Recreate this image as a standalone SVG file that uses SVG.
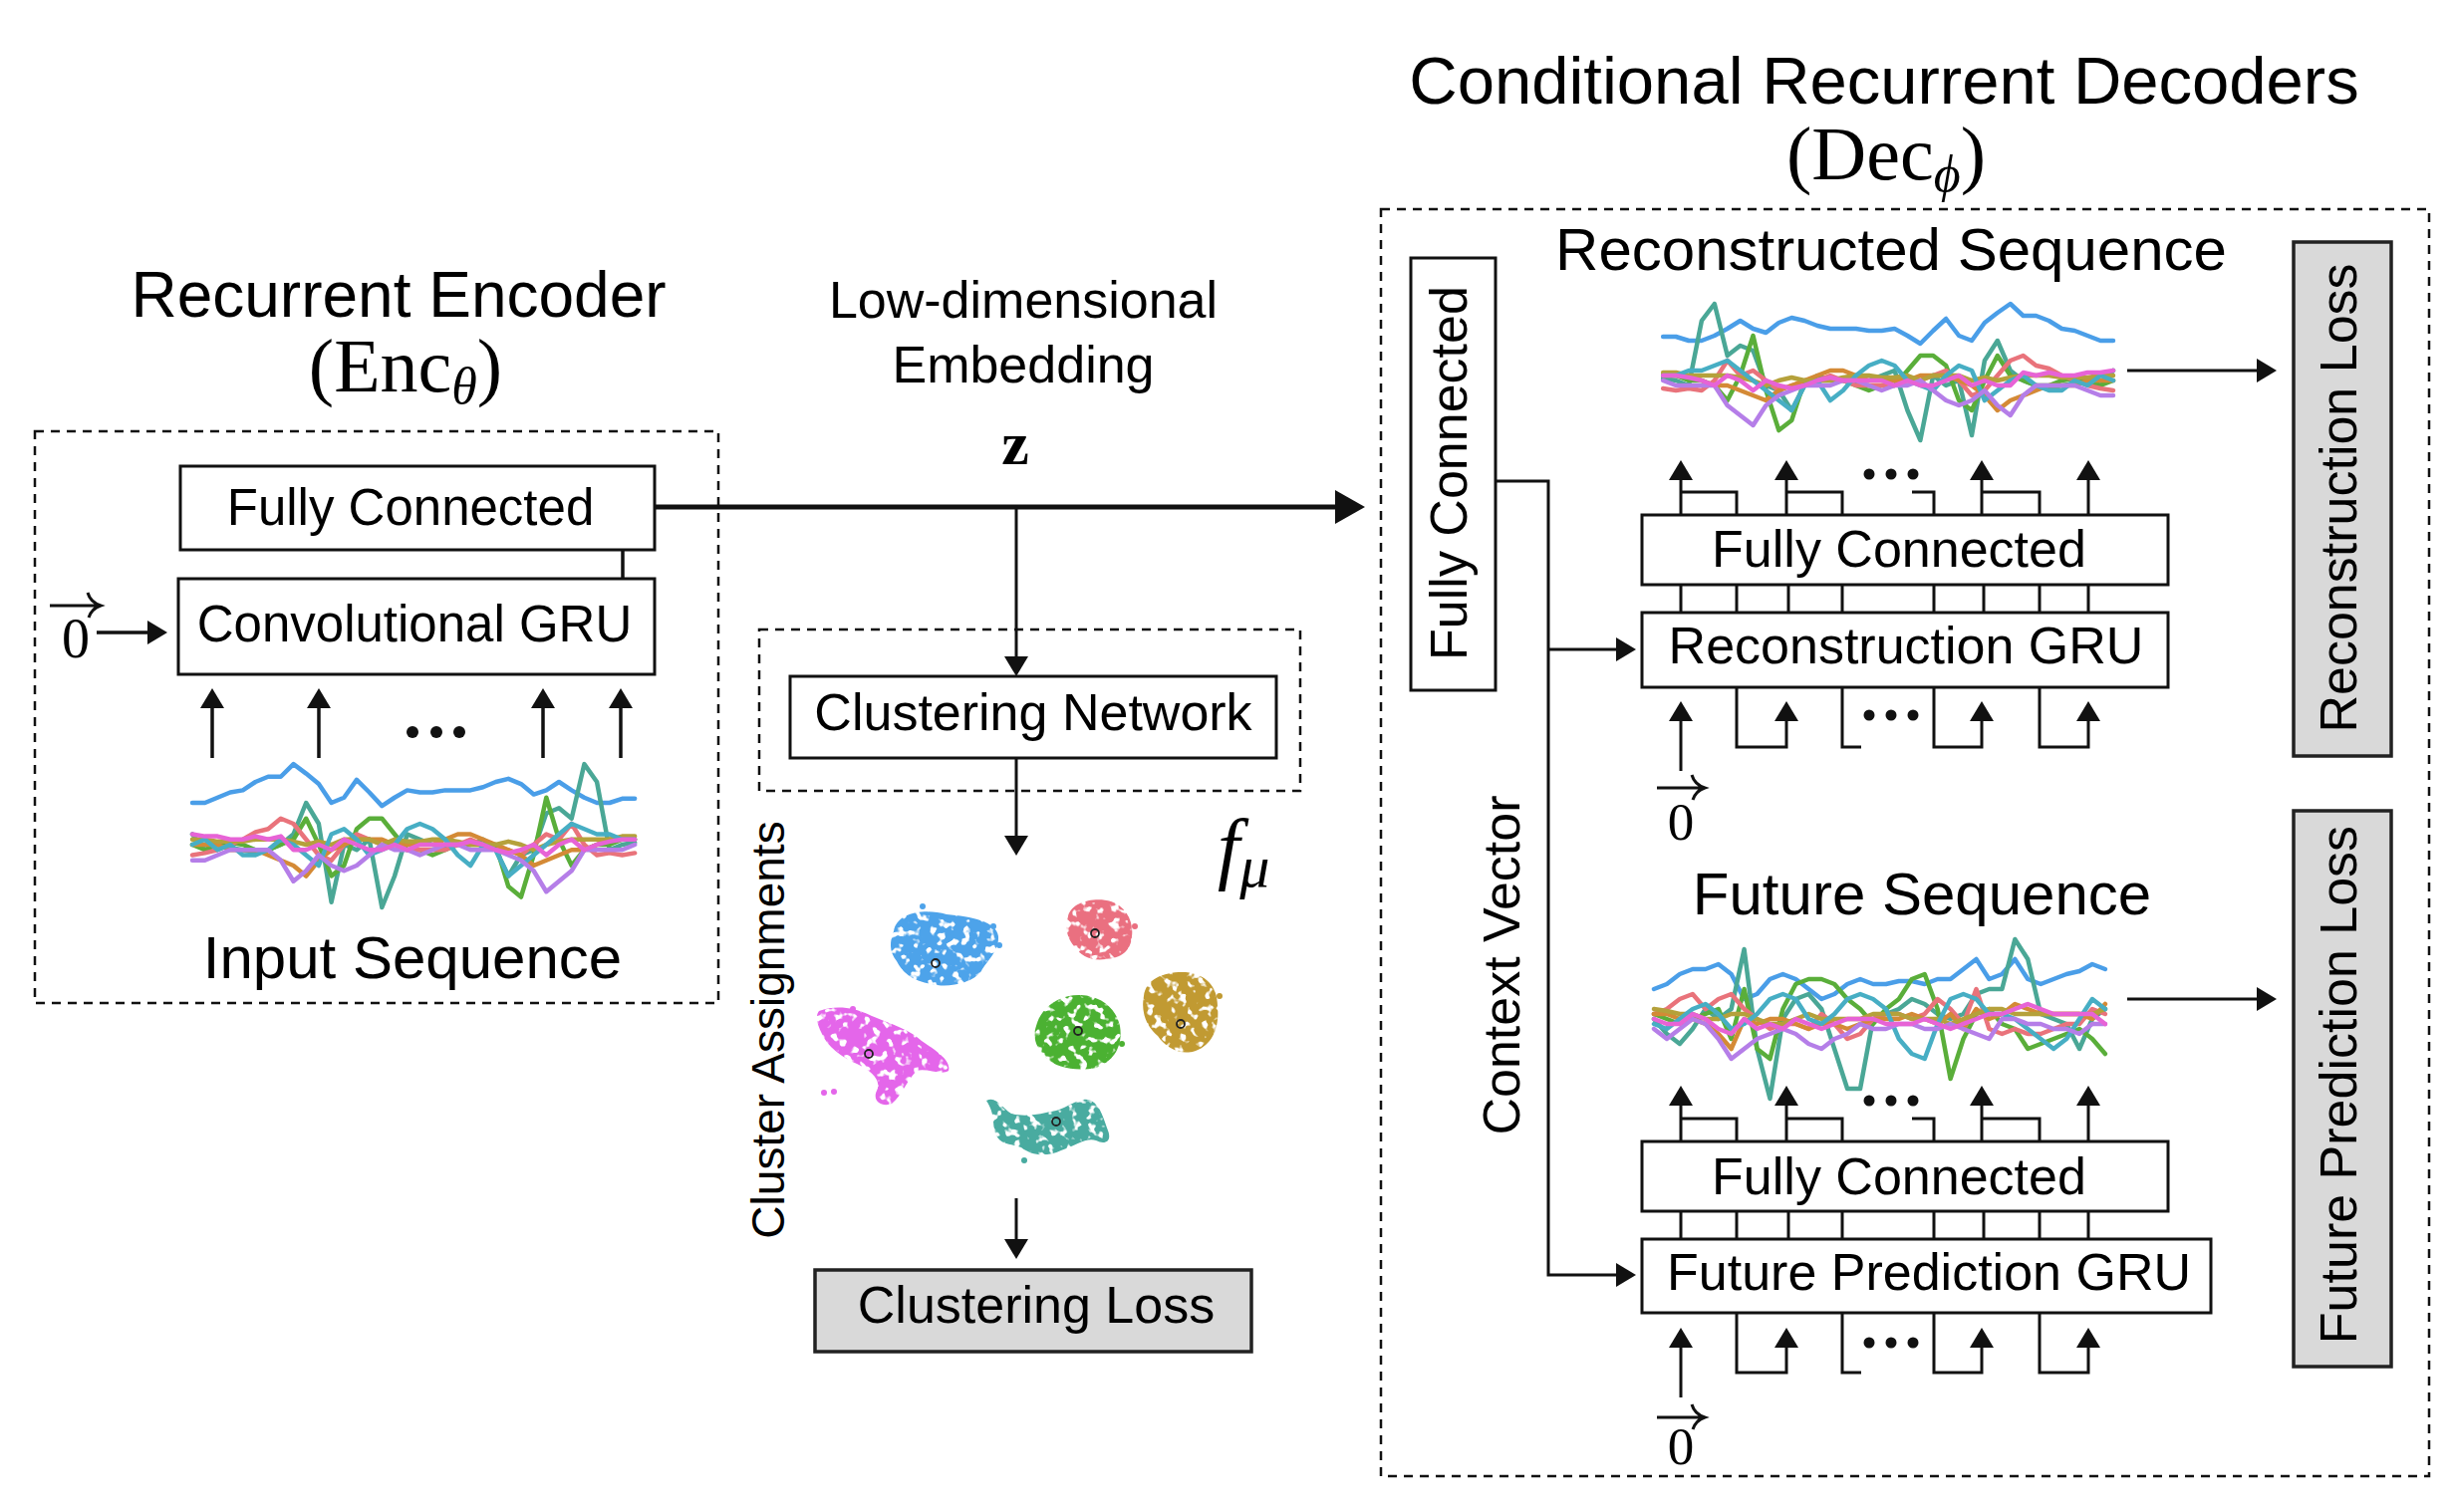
<svg xmlns="http://www.w3.org/2000/svg" xmlns:xlink="http://www.w3.org/1999/xlink" width="2464" height="1518" viewBox="0 0 2464 1518">
<style>
.t{font-family:"Liberation Sans",Arial,Helvetica,sans-serif;fill:#000}
.m{font-family:"Liberation Serif","Times New Roman",serif;fill:#000}
.box{fill:#fff;stroke:#111;stroke-width:3}
.loss{fill:#d9d9d9;stroke:#222;stroke-width:3.5}
.dash{fill:none;stroke:#111;stroke-width:2.5;stroke-dasharray:9 7}
.ln{fill:none;stroke:#111;stroke-width:3}
.ln4{fill:none;stroke:#111;stroke-width:3.5}
.ser polyline{fill:none;stroke-width:4.5;vector-effect:non-scaling-stroke;stroke-linejoin:round;stroke-linecap:round}
.c1{stroke:#4a9ee8}.c2{stroke:#4aa796}.c3{stroke:#5aae3a}.c4{stroke:#e9737b}.c5{stroke:#d48a36}.c6{stroke:#b5a13b}.c7{stroke:#47aec4}.c8{stroke:#b57ee8}.c9{stroke:#e763d6}
.dot{fill:#111}
.cen{fill:none;stroke:#222;stroke-width:1.8}
</style>
<defs>
<marker id="ah" viewBox="0 0 20 24" refX="14" refY="12" markerWidth="20" markerHeight="24" markerUnits="userSpaceOnUse" orient="auto"><path d="M0,0 L20,12 L0,24 Z" fill="#111"/></marker>
<marker id="ahL" viewBox="0 0 30 34" refX="24" refY="17" markerWidth="30" markerHeight="34" markerUnits="userSpaceOnUse" orient="auto"><path d="M0,0 L30,17 L0,34 Z" fill="#111"/></marker>
<filter id="speckle" x="-10%" y="-10%" width="120%" height="120%">
<feTurbulence type="fractalNoise" baseFrequency="0.12" numOctaves="2" seed="7" result="n"/>
<feColorMatrix in="n" type="matrix" values="0 0 0 0 0 0 0 0 0 0 0 0 0 0 0 9 0 0 0 -3.0" result="m"/>
<feComposite in="SourceGraphic" in2="m" operator="in"/>
</filter>
<g id="serA" class="ser">
<polyline class="c1" points="0,-40 1,-40 2,-45 3,-50 4,-52 5,-60 6,-65 7,-65 8,-77 9,-68 10,-58 11,-40 12,-45 13,-62 14,-50 15,-37 16,-45 17,-52 18,-50 19,-50 20,-52 21,-52 22,-52 23,-55 24,-60 25,-63 26,-58 27,-48 28,-52 29,-60 30,-52 31,-45 32,-40 33,-40 34,-44 35,-44"/>
<polyline class="c2" points="0,-10 1,5 2,0 3,3 4,5 5,8 6,5 7,0 8,-10 9,-40 10,-20 11,55 12,0 13,5 14,-5 15,60 16,30 17,-10 18,-5 19,0 20,2 21,0 22,0 23,-5 24,5 25,30 26,10 27,5 28,-30 29,-35 30,-25 31,-77 32,-60 33,5 34,0 35,-2"/>
<polyline class="c3" points="0,0 1,5 2,0 3,-2 4,0 5,5 6,5 7,0 8,-5 9,-25 10,0 11,30 12,20 13,-15 14,-25 15,-25 16,-10 17,5 18,5 19,10 20,5 21,0 22,0 23,0 24,0 25,40 26,50 27,10 28,-45 29,-5 30,20 31,5 32,0 33,0 34,-5 35,-5"/>
<polyline class="c4" points="0,10 1,8 2,5 3,0 4,-5 5,-12 6,-15 7,-25 8,-20 9,-5 10,10 11,15 12,0 13,-10 14,-5 15,0 16,0 17,5 18,5 19,5 20,5 21,0 22,-5 23,0 24,5 25,5 26,10 27,0 28,-10 29,-5 30,-20 31,0 32,10 33,8 34,10 35,8"/>
<polyline class="c5" points="0,0 1,0 2,0 3,5 4,5 5,5 6,10 7,15 8,20 9,30 10,15 11,5 12,0 13,-5 14,-5 15,-5 16,0 17,0 18,0 19,0 20,-5 21,-10 22,-10 23,-5 24,0 25,5 26,10 27,20 28,15 29,10 30,5 31,5 32,0 33,-5 34,-5 35,-5"/>
<polyline class="c6" points="0,-5 1,-5 2,-3 3,-3 4,-3 5,-5 6,-5 7,-5 8,-3 9,0 10,-3 11,0 12,-5 13,-5 14,-5 15,0 16,-5 17,-3 18,-3 19,-5 20,-5 21,-3 22,0 23,0 24,0 25,-3 26,0 27,5 28,0 29,-3 30,-5 31,-5 32,-5 33,-5 34,-8 35,-8"/>
<polyline class="c7" points="0,0 1,-5 2,5 3,0 4,10 5,10 6,5 7,-5 8,0 9,10 10,20 11,-10 12,-15 13,-5 14,10 15,5 16,0 17,-15 18,-20 19,-15 20,-5 21,10 22,20 23,0 24,5 25,30 26,20 27,10 28,0 29,-10 30,-20 31,-15 32,-10 33,-10 34,-5 35,-5"/>
<polyline class="c8" points="0,15 1,15 2,10 3,5 4,5 5,5 6,5 7,15 8,35 9,25 10,10 11,20 12,25 13,20 14,10 15,0 16,5 17,5 18,10 19,5 20,0 21,0 22,5 23,5 24,5 25,10 26,15 27,25 28,45 29,35 30,25 31,5 32,5 33,5 34,5 35,0"/>
<polyline class="c9" points="0,-10 1,-8 2,-8 3,-5 4,-5 5,-8 6,-5 7,-8 8,5 9,5 10,0 11,5 12,-5 13,0 14,5 15,5 16,0 17,5 18,0 19,0 20,0 21,0 22,-3 23,0 24,5 25,8 26,5 27,0 28,10 29,0 30,-5 31,5 32,0 33,-3 34,-5 35,-5"/>
</g>
<g id="serB" class="ser">
<polyline class="c1" points="0,-30 1,-35 2,-45 3,-50 4,-50 5,-55 6,-45 7,-20 8,-25 9,-40 10,-45 11,-40 12,-30 13,-20 14,-25 15,-35 16,-40 17,-35 18,-35 19,-38 20,-38 21,-35 22,-40 23,-40 24,-50 25,-60 26,-40 27,-45 28,-60 29,-40 30,-35 31,-40 32,-45 33,-48 34,-55 35,-50"/>
<polyline class="c2" points="0,0 1,15 2,25 3,10 4,-10 5,0 6,-10 7,-70 8,30 9,80 10,0 11,-20 12,-25 13,-10 14,30 15,70 16,70 17,0 18,-5 19,-10 20,-20 21,-15 22,-5 23,0 24,-5 25,-25 26,-30 27,-30 28,-80 29,-60 30,-5 31,0 32,5 33,30 34,0 35,-10"/>
<polyline class="c3" points="0,-5 1,0 2,5 3,0 4,-5 5,-10 6,20 7,-30 8,30 9,40 10,-10 11,-35 12,-40 13,-40 14,-35 15,-20 16,-10 17,5 18,-10 19,-20 20,-40 21,-45 22,-10 23,60 24,20 25,-5 26,-10 27,5 28,10 29,30 30,25 31,20 32,15 33,10 34,20 35,35"/>
<polyline class="c4" points="0,-5 1,-10 2,-20 3,-25 4,-10 5,-20 6,-25 7,-10 8,0 9,10 10,5 11,5 12,10 13,-5 14,5 15,20 16,15 17,0 18,-5 19,-5 20,0 21,-5 22,-20 23,-10 24,5 25,-30 26,10 27,15 28,10 29,15 30,15 31,10 32,5 33,5 34,-10 35,-5"/>
<polyline class="c5" points="0,-5 1,-5 2,0 3,0 4,5 5,15 6,30 7,0 8,5 9,0 10,0 11,5 12,10 13,5 14,5 15,10 16,5 17,0 18,0 19,0 20,-5 21,0 22,5 23,-5 24,10 25,-10 26,0 27,-5 28,-15 29,-10 30,-5 31,-5 32,-5 33,-5 34,0 35,-15"/>
<polyline class="c6" points="0,-10 1,-8 2,-5 3,-5 4,0 5,0 6,-5 7,-5 8,0 9,5 10,5 11,0 12,-5 13,0 14,0 15,0 16,0 17,-5 18,-5 19,-5 20,0 21,0 22,0 23,5 24,0 25,-5 26,-10 27,-10 28,-5 29,-5 30,-5 31,-5 32,-5 33,-5 34,-5 35,-10"/>
<polyline class="c7" points="0,5 1,10 2,0 3,-10 4,-15 5,-5 6,10 7,5 8,-5 9,-20 10,-25 11,-20 12,0 13,5 14,-5 15,-20 16,-25 17,-20 18,-10 19,20 20,35 21,40 22,5 23,-20 24,-25 25,-20 26,-5 27,-5 28,0 29,10 30,20 31,30 32,20 33,0 34,-20 35,-10"/>
<polyline class="c8" points="0,10 1,20 2,10 3,0 4,5 5,20 6,40 7,30 8,20 9,15 10,10 11,15 12,25 13,30 14,20 15,15 16,5 17,10 18,10 19,5 20,5 21,10 22,10 23,5 24,10 25,15 26,20 27,0 28,0 29,5 30,5 31,10 32,10 33,15 34,5 35,5"/>
<polyline class="c9" points="0,0 1,5 2,5 3,-5 4,0 5,10 6,15 7,0 8,10 9,5 10,10 11,0 12,5 13,10 14,5 15,0 16,0 17,0 18,5 19,5 20,5 21,0 22,5 23,10 24,5 25,0 26,-5 27,-5 28,-10 29,-15 30,-10 31,-5 32,-5 33,-5 34,-5 35,5"/>
</g>
</defs>
<rect width="2464" height="1518" fill="#fff"/>

<!-- Encoder -->
<g id="encoder-title">
<text class="t" x="400" y="318" font-size="64" text-anchor="middle">Recurrent Encoder</text>
<text class="m" x="407" y="393" font-size="76" text-anchor="middle">(Enc<tspan font-style="italic" font-size="52" dy="12">θ</tspan><tspan dy="-12">)</tspan></text>
</g>
<g id="encoder-frame"><rect class="dash" x="35" y="433" width="686" height="574"/></g>
<g id="enc-fc"><rect class="box" x="181" y="468" width="476" height="84"/><text class="t" x="412" y="527" font-size="51" text-anchor="middle">Fully Connected</text></g>
<g id="enc-gru"><rect class="box" x="179" y="581" width="478" height="96"/><text class="t" x="416" y="644" font-size="51" text-anchor="middle">Convolutional GRU</text></g>
<g id="enc-zero">
<text class="m" x="76" y="660" font-size="56" text-anchor="middle">0</text>
<path class="ln" stroke-width="2" d="M50,608 H100 M88,595 C90,602 95,606 101,608 C95,610 91,614 89,620"/>
</g>
<g id="enc-dots"><circle class="dot" cx="414" cy="735" r="6"/><circle class="dot" cx="438" cy="735" r="6"/><circle class="dot" cx="461" cy="735" r="6"/></g>
<g id="input-sequence">
<use href="#serA" transform="translate(193,848) scale(12.69,1.05)"/>
<text class="t" x="414" y="982" font-size="60" text-anchor="middle">Input Sequence</text>
</g>

<!-- Embedding -->
<g id="embedding">
<text class="t" x="1027" y="319" font-size="52" text-anchor="middle">Low-dimensional</text>
<text class="t" x="1027" y="384" font-size="52" text-anchor="middle">Embedding</text>
<text class="m" x="1019" y="466" font-size="62" font-weight="bold" text-anchor="middle">z</text>
</g>

<!-- Clustering -->
<g id="clustering-frame"><rect class="dash" x="762" y="632" width="543" height="162"/></g>
<g id="clust-net"><rect class="box" x="793" y="679" width="488" height="82"/><text class="t" x="1037" y="733" font-size="52" text-anchor="middle">Clustering Network</text></g>
<g id="f-mu"><text class="m" x="1222" y="878" font-size="80" font-style="italic">f<tspan font-size="60" dy="12">μ</tspan></text></g>
<g id="cluster-assignments">
<text class="t" transform="rotate(-90 787 1034)" x="787" y="1034" font-size="46" text-anchor="middle">Cluster Assignments</text>
<g filter="url(#speckle)">
<path fill="#4ea3ea" d="M897,935 C900,915 930,912 950,918 C975,920 1000,925 1002,940 C1003,955 990,965 985,975 C975,988 950,992 935,988 C915,985 905,975 900,965 C892,955 893,945 897,935 Z"/>
<path fill="#ea6f80" d="M1072,920 C1075,905 1100,900 1115,905 C1130,910 1138,925 1136,940 C1135,955 1125,962 1110,963 C1095,965 1085,960 1078,950 C1070,940 1069,930 1072,920 Z"/>
<path fill="#c19a32" d="M1148,1000 C1150,982 1170,975 1190,976 C1210,978 1222,990 1222,1010 C1224,1030 1218,1048 1200,1055 C1185,1060 1170,1052 1162,1040 C1150,1030 1145,1015 1148,1000 Z"/>
<path fill="#4cb132" d="M1040,1030 C1045,1010 1065,998 1085,999 C1105,1000 1120,1012 1124,1030 C1127,1048 1120,1065 1100,1072 C1080,1076 1060,1072 1050,1062 C1040,1052 1036,1042 1040,1030 Z"/>
<path fill="#e466ea" d="M822,1015 C840,1008 860,1012 875,1020 C895,1028 915,1035 925,1045 C940,1055 955,1065 952,1075 C945,1080 930,1072 920,1075 C910,1085 905,1100 895,1108 C885,1112 875,1105 880,1095 C885,1085 875,1075 860,1068 C845,1062 830,1050 825,1038 C820,1028 818,1020 822,1015 Z"/>
<path fill="#48aba0" d="M990,1105 C1000,1100 1005,1112 1015,1118 C1030,1122 1045,1118 1060,1115 C1075,1110 1085,1100 1095,1105 C1105,1110 1108,1125 1112,1135 C1116,1145 1110,1150 1100,1145 C1090,1142 1080,1150 1065,1155 C1050,1162 1035,1160 1025,1152 C1015,1148 1005,1150 1000,1140 C995,1130 1000,1120 990,1105 Z"/>
</g>
<g>
<circle cx="926" cy="910" r="3" fill="#4ea3ea"/><circle cx="997" cy="930" r="3" fill="#4ea3ea"/><circle cx="1003" cy="949" r="3" fill="#4ea3ea"/>
<circle cx="1139" cy="930" r="3" fill="#ea6f80"/><circle cx="1224" cy="1000" r="3" fill="#c19a32"/><circle cx="1126" cy="1048" r="3" fill="#4cb132"/>
<circle cx="856" cy="1013" r="3" fill="#e466ea"/><circle cx="827" cy="1097" r="3" fill="#e466ea"/><circle cx="837" cy="1096" r="3" fill="#e466ea"/>
<circle cx="1028" cy="1165" r="3" fill="#48aba0"/>
</g>
<g id="centroids">
<circle class="cen" cx="939" cy="967" r="4"/><circle class="cen" cx="1099" cy="937" r="4"/><circle class="cen" cx="1185" cy="1028" r="4"/>
<circle class="cen" cx="1082" cy="1035" r="4"/><circle class="cen" cx="872" cy="1058" r="4"/><circle class="cen" cx="1060" cy="1126" r="4"/>
</g>
</g>
<g id="clust-loss"><rect class="loss" x="818" y="1275" width="438" height="82"/><text class="t" x="1040" y="1328" font-size="52" text-anchor="middle">Clustering Loss</text></g>

<!-- Decoder -->
<g id="decoder-title">
<text class="t" x="1891" y="104" font-size="67" text-anchor="middle">Conditional Recurrent Decoders</text>
<text class="m" x="1893" y="180" font-size="76" text-anchor="middle">(Dec<tspan font-style="italic" font-size="52" dy="12">ϕ</tspan><tspan dy="-12">)</tspan></text>
</g>
<g id="decoder-frame"><rect class="dash" x="1386" y="210" width="1052" height="1272"/></g>
<g id="dec-fc"><rect class="box" x="1416" y="259" width="85" height="434"/><text class="t" transform="rotate(-90 1472 475)" x="1472" y="475" font-size="52" text-anchor="middle">Fully Connected</text></g>
<g id="context-label"><text class="t" transform="rotate(-90 1525 969)" x="1525" y="969" font-size="52" text-anchor="middle">Context Vector</text></g>

<g id="recon-seq">
<text class="t" x="1898" y="271" font-size="60" text-anchor="middle">Reconstructed Sequence</text>
<use href="#serA" transform="translate(2121,382) scale(-12.91,1)"/>
</g>
<g id="recon-fc"><rect class="box" x="1648" y="517" width="528" height="70"/><text class="t" x="1906" y="569" font-size="52" text-anchor="middle">Fully Connected</text></g>
<g id="recon-gru"><rect class="box" x="1648" y="615" width="528" height="75"/><text class="t" x="1913" y="666" font-size="52" text-anchor="middle">Reconstruction GRU</text></g>
<g id="recon-loss"><rect class="loss" x="2302" y="243" width="98" height="516"/><text class="t" transform="rotate(-90 2365 500)" x="2365" y="500" font-size="52" text-anchor="middle">Reconstruction Loss</text></g>
<g id="recon-zero">
<text class="m" x="1687" y="843" font-size="53" text-anchor="middle">0</text>
<path class="ln" stroke-width="2" d="M1663,791 H1710 M1698,778 C1700,785 1705,789 1711,791 C1705,793 1701,797 1699,803"/>
</g>

<g id="future-seq">
<text class="t" x="1929" y="918" font-size="60" text-anchor="middle">Future Sequence</text>
<use href="#serB" transform="translate(1660,1023) scale(12.94,1)"/>
</g>
<g id="future-fc"><rect class="box" x="1648" y="1146" width="528" height="70"/><text class="t" x="1906" y="1199" font-size="52" text-anchor="middle">Fully Connected</text></g>
<g id="future-gru"><rect class="box" x="1648" y="1244" width="571" height="74"/><text class="t" x="1936" y="1295" font-size="52" text-anchor="middle">Future Prediction GRU</text></g>
<g id="future-loss"><rect class="loss" x="2302" y="814" width="98" height="558"/><text class="t" transform="rotate(-90 2365 1089)" x="2365" y="1089" font-size="52" text-anchor="middle">Future Prediction Loss</text></g>
<g id="future-zero">
<text class="m" x="1687" y="1470" font-size="53" text-anchor="middle">0</text>
<path class="ln" stroke-width="2" d="M1663,1423 H1710 M1698,1410 C1700,1417 1705,1421 1711,1423 C1705,1425 1701,1429 1699,1435"/>
</g>

<g id="dec-dots">
<circle class="dot" cx="1876" cy="476" r="5.5"/><circle class="dot" cx="1898" cy="476" r="5.5"/><circle class="dot" cx="1920" cy="476" r="5.5"/>
<circle class="dot" cx="1876" cy="718" r="5.5"/><circle class="dot" cx="1898" cy="718" r="5.5"/><circle class="dot" cx="1920" cy="718" r="5.5"/>
<circle class="dot" cx="1876" cy="1105" r="5.5"/><circle class="dot" cx="1898" cy="1105" r="5.5"/><circle class="dot" cx="1920" cy="1105" r="5.5"/>
<circle class="dot" cx="1876" cy="1348" r="5.5"/><circle class="dot" cx="1898" cy="1348" r="5.5"/><circle class="dot" cx="1920" cy="1348" r="5.5"/>
</g>

<!-- Connectors -->
<g id="connectors">
<line class="ln4" x1="97" y1="635" x2="162" y2="635" marker-end="url(#ah)"/>
<line class="ln4" x1="213" y1="761" x2="213" y2="697" marker-end="url(#ah)"/>
<line class="ln4" x1="320" y1="761" x2="320" y2="697" marker-end="url(#ah)"/>
<line class="ln4" x1="545" y1="761" x2="545" y2="697" marker-end="url(#ah)"/>
<line class="ln4" x1="623" y1="761" x2="623" y2="697" marker-end="url(#ah)"/>
<line class="ln4" x1="625" y1="552" x2="625" y2="581"/>
<line x1="657" y1="509" x2="1364" y2="509" stroke="#111" stroke-width="5" marker-end="url(#ahL)"/>
<line class="ln" x1="1020" y1="509" x2="1020" y2="673" marker-end="url(#ah)"/>
<line class="ln" x1="1020" y1="761" x2="1020" y2="853" marker-end="url(#ah)"/>
<line class="ln" x1="1020" y1="1203" x2="1020" y2="1258" marker-end="url(#ah)"/>

<polyline class="ln" points="1501,483 1554,483 1554,1280 1636,1280" marker-end="url(#ah)"/>
<line class="ln" x1="1554" y1="652" x2="1636" y2="652" marker-end="url(#ah)"/>
<line class="ln" x1="2135" y1="372" x2="2279" y2="372" marker-end="url(#ah)"/>
<line class="ln" x1="2135" y1="1003" x2="2279" y2="1003" marker-end="url(#ah)"/>

<!-- reconstruction decoder -->
<line class="ln" x1="1687" y1="517" x2="1687" y2="468" marker-end="url(#ah)"/>
<line class="ln" x1="1793" y1="517" x2="1793" y2="468" marker-end="url(#ah)"/>
<line class="ln" x1="1989" y1="517" x2="1989" y2="468" marker-end="url(#ah)"/>
<line class="ln" x1="2096" y1="517" x2="2096" y2="468" marker-end="url(#ah)"/>
<polyline class="ln" points="1687,494 1743,494 1743,517"/>
<polyline class="ln" points="1793,494 1849,494 1849,517"/>
<polyline class="ln" points="1919,494 1941,494 1941,517"/>
<polyline class="ln" points="1989,494 2047,494 2047,517"/>
<path class="ln" d="M1687,587 V615 M1743,587 V615 M1795,587 V615 M1849,587 V615 M1941,587 V615 M1991,587 V615 M2047,587 V615 M2096,587 V615"/>
<line class="ln" x1="1687" y1="774" x2="1687" y2="710" marker-end="url(#ah)"/>
<polyline class="ln" points="1743,690 1743,750 1793,750 1793,710" marker-end="url(#ah)"/>
<polyline class="ln" points="1849,690 1849,750 1868,750"/>
<polyline class="ln" points="1941,690 1941,750 1989,750 1989,710" marker-end="url(#ah)"/>
<polyline class="ln" points="2047,690 2047,750 2096,750 2096,710" marker-end="url(#ah)"/>

<!-- future decoder -->
<line class="ln" x1="1687" y1="1146" x2="1687" y2="1096" marker-end="url(#ah)"/>
<line class="ln" x1="1793" y1="1146" x2="1793" y2="1096" marker-end="url(#ah)"/>
<line class="ln" x1="1989" y1="1146" x2="1989" y2="1096" marker-end="url(#ah)"/>
<line class="ln" x1="2096" y1="1146" x2="2096" y2="1096" marker-end="url(#ah)"/>
<polyline class="ln" points="1687,1123 1743,1123 1743,1146"/>
<polyline class="ln" points="1793,1123 1849,1123 1849,1146"/>
<polyline class="ln" points="1919,1123 1941,1123 1941,1146"/>
<polyline class="ln" points="1989,1123 2047,1123 2047,1146"/>
<path class="ln" d="M1687,1216 V1244 M1743,1216 V1244 M1795,1216 V1244 M1849,1216 V1244 M1941,1216 V1244 M1991,1216 V1244 M2047,1216 V1244 M2096,1216 V1244"/>
<line class="ln" x1="1687" y1="1403" x2="1687" y2="1339" marker-end="url(#ah)"/>
<polyline class="ln" points="1743,1318 1743,1378 1793,1378 1793,1339" marker-end="url(#ah)"/>
<polyline class="ln" points="1849,1318 1849,1378 1868,1378"/>
<polyline class="ln" points="1941,1318 1941,1378 1989,1378 1989,1339" marker-end="url(#ah)"/>
<polyline class="ln" points="2047,1318 2047,1378 2096,1378 2096,1339" marker-end="url(#ah)"/>
</g>
</svg>
